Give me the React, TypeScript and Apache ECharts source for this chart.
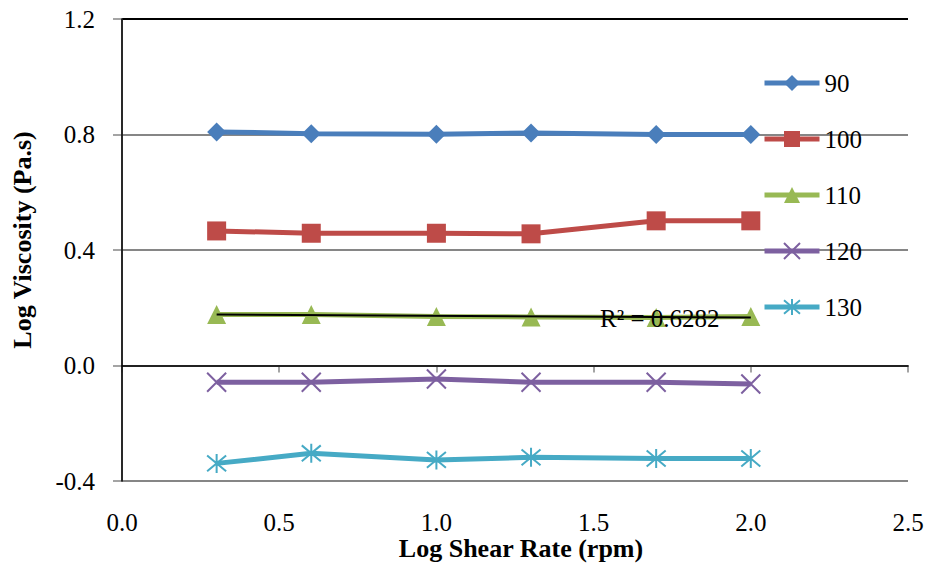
import React, { useEffect, useRef } from "react";
import * as echarts from "echarts";

const shearRateLog = [0.301, 0.602, 1.0, 1.301, 1.699, 2.0];
const seriesNames = ["90", "100", "110", "120", "130"];
const visc90 = [0.809, 0.803, 0.801, 0.805, 0.8, 0.8];
const visc100 = [0.466, 0.458, 0.458, 0.456, 0.501, 0.501];
const visc110 = [0.177, 0.177, 0.17, 0.168, 0.166, 0.17];
const visc120 = [-0.058, -0.058, -0.047, -0.058, -0.058, -0.064];
const visc130 = [-0.339, -0.304, -0.327, -0.318, -0.322, -0.322];
const xTitle = "Log Shear Rate (rpm)";
const yTitle = "Log Viscosity (Pa.s)";
const r2Label = "R² = 0.6282";

const colors = ["#4A7EBB", "#BE4B48", "#98B954", "#7D60A0", "#46AAC5"];
const symbols = [
  "diamond",
  "rect",
  "triangle",
  "path://M0,0L10,10M10,0L0,10",
  "path://M0,0L10,10M10,0L0,10M5,-1L5,11",
];

const FONT = "Liberation Serif";

function linearFit(xs: number[], ys: number[]) {
  const n = xs.length;
  const mx = xs.reduce((a, b) => a + b, 0) / n;
  const my = ys.reduce((a, b) => a + b, 0) / n;
  let sxy = 0;
  let sxx = 0;
  for (let i = 0; i < n; i++) {
    sxy += (xs[i] - mx) * (ys[i] - my);
    sxx += (xs[i] - mx) * (xs[i] - mx);
  }
  const slope = sxy / sxx;
  const intercept = my - slope * mx;
  return (x: number) => intercept + slope * x;
}

export default function App() {
  const ref = useRef<HTMLDivElement>(null);

  useEffect(() => {
    document.body.style.margin = "0";
    if (!ref.current) return;
    const chart = echarts.init(ref.current, null, { renderer: "svg" });
    const allData = [visc90, visc100, visc110, visc120, visc130];
    const fit = linearFit(shearRateLog, visc110);
    const x0 = shearRateLog[0];
    const x1 = shearRateLog[shearRateLog.length - 1];

    const series: any[] = allData.map((vals, i) => {
      const isStroke = i >= 3;
      return {
        name: seriesNames[i],
        type: "line",
        data: vals.map((v, j) => [shearRateLog[j], v]),
        symbol: symbols[i],
        symbolSize: 19,
        showAllSymbol: true,
        lineStyle: { color: colors[i], width: 5 },
        itemStyle: isStroke
          ? { color: colors[i], borderColor: colors[i], borderWidth: 2 }
          : { color: colors[i] },
        emphasis: { disabled: true },
        z: 3,
      };
    });
    series.push({
      name: "trend",
      type: "line",
      data: [
        [x0, fit(x0)],
        [x1, fit(x1)],
      ],
      symbol: "none",
      lineStyle: { color: "#000", width: 2 },
      emphasis: { disabled: true },
      z: 4,
    });

    chart.setOption({
      animation: false,
      grid: { left: 122, right: 20, top: 19, bottom: 88 },
      legend: {
        data: seriesNames,
        orient: "vertical",
        left: 762,
        top: 70,
        padding: 0,
        itemWidth: 55,
        itemHeight: 20,
        itemGap: 30,
        lineStyle: { width: 5 },
        textStyle: { fontFamily: FONT, fontSize: 25, color: "#000", lineHeight: 26 },
        selectedMode: false,
      },
      xAxis: [
        {
          type: "value",
          min: 0,
          max: 2.5,
          interval: 0.5,
          axisLine: { show: true, lineStyle: { color: "#868686", width: 1.5 } },
          axisTick: { show: true, length: 7, lineStyle: { color: "#868686", width: 1.5 } },
          axisLabel: {
            fontFamily: FONT,
            fontSize: 25,
            lineHeight: 20,
            color: "#000",
            margin: 31,
            formatter: (v: number) => v.toFixed(1),
          },
          splitLine: { show: false },
        },
        {
          type: "value",
          position: "top",
          min: 0,
          max: 2.5,
          interval: 0.5,
          axisLine: { show: true, lineStyle: { color: "#000", width: 1.5 } },
          axisTick: { show: false },
          axisLabel: { show: false },
          splitLine: { show: false },
          z: 5,
        },
      ],
      yAxis: [
        {
          type: "value",
          min: -0.4,
          max: 1.2,
          interval: 0.4,
          axisLine: { show: true, lineStyle: { color: "#868686", width: 1.5 } },
          axisTick: { show: true, length: 9, lineStyle: { color: "#868686", width: 1.5 } },
          axisLabel: {
            fontFamily: FONT,
            fontSize: 25,
            color: "#000",
            margin: 27,
            formatter: (v: number) => v.toFixed(1),
          },
          splitLine: {
            show: true,
            lineStyle: {
              color: ["#868686", "#868686", "#868686", "#868686", "#000"],
              width: 2,
            },
          },
        },
        {
          type: "value",
          position: "right",
          min: -0.4,
          max: 1.2,
          interval: 0.4,
          axisLine: { show: true, lineStyle: { color: "#000", width: 1.5 } },
          axisTick: { show: false },
          axisLabel: { show: false },
          splitLine: { show: false },
          z: 5,
        },
      ],
      graphic: [
        {
          type: "text",
          x: 600,
          y: 318,
          z: 10,
          style: {
            text: r2Label,
            fontFamily: FONT,
            fontSize: 25,
            fill: "#000",
            verticalAlign: "middle",
          },
        },
        {
          type: "text",
          x: 521,
          y: 548,
          style: {
            text: xTitle,
            fontFamily: FONT,
            fontSize: 26,
            lineHeight: 22,
            fontWeight: "bold",
            fill: "#000",
            align: "center",
            verticalAlign: "middle",
          },
        },
        {
          type: "text",
          x: 22,
          y: 240,
          rotation: Math.PI / 2,
          style: {
            text: yTitle,
            fontFamily: FONT,
            fontSize: 26,
            fontWeight: "bold",
            fill: "#000",
            align: "center",
            verticalAlign: "middle",
          },
        },
      ],
      series,
    });

    return () => chart.dispose();
  }, []);

  return <div ref={ref} style={{ width: 928, height: 569 }} />;
}
